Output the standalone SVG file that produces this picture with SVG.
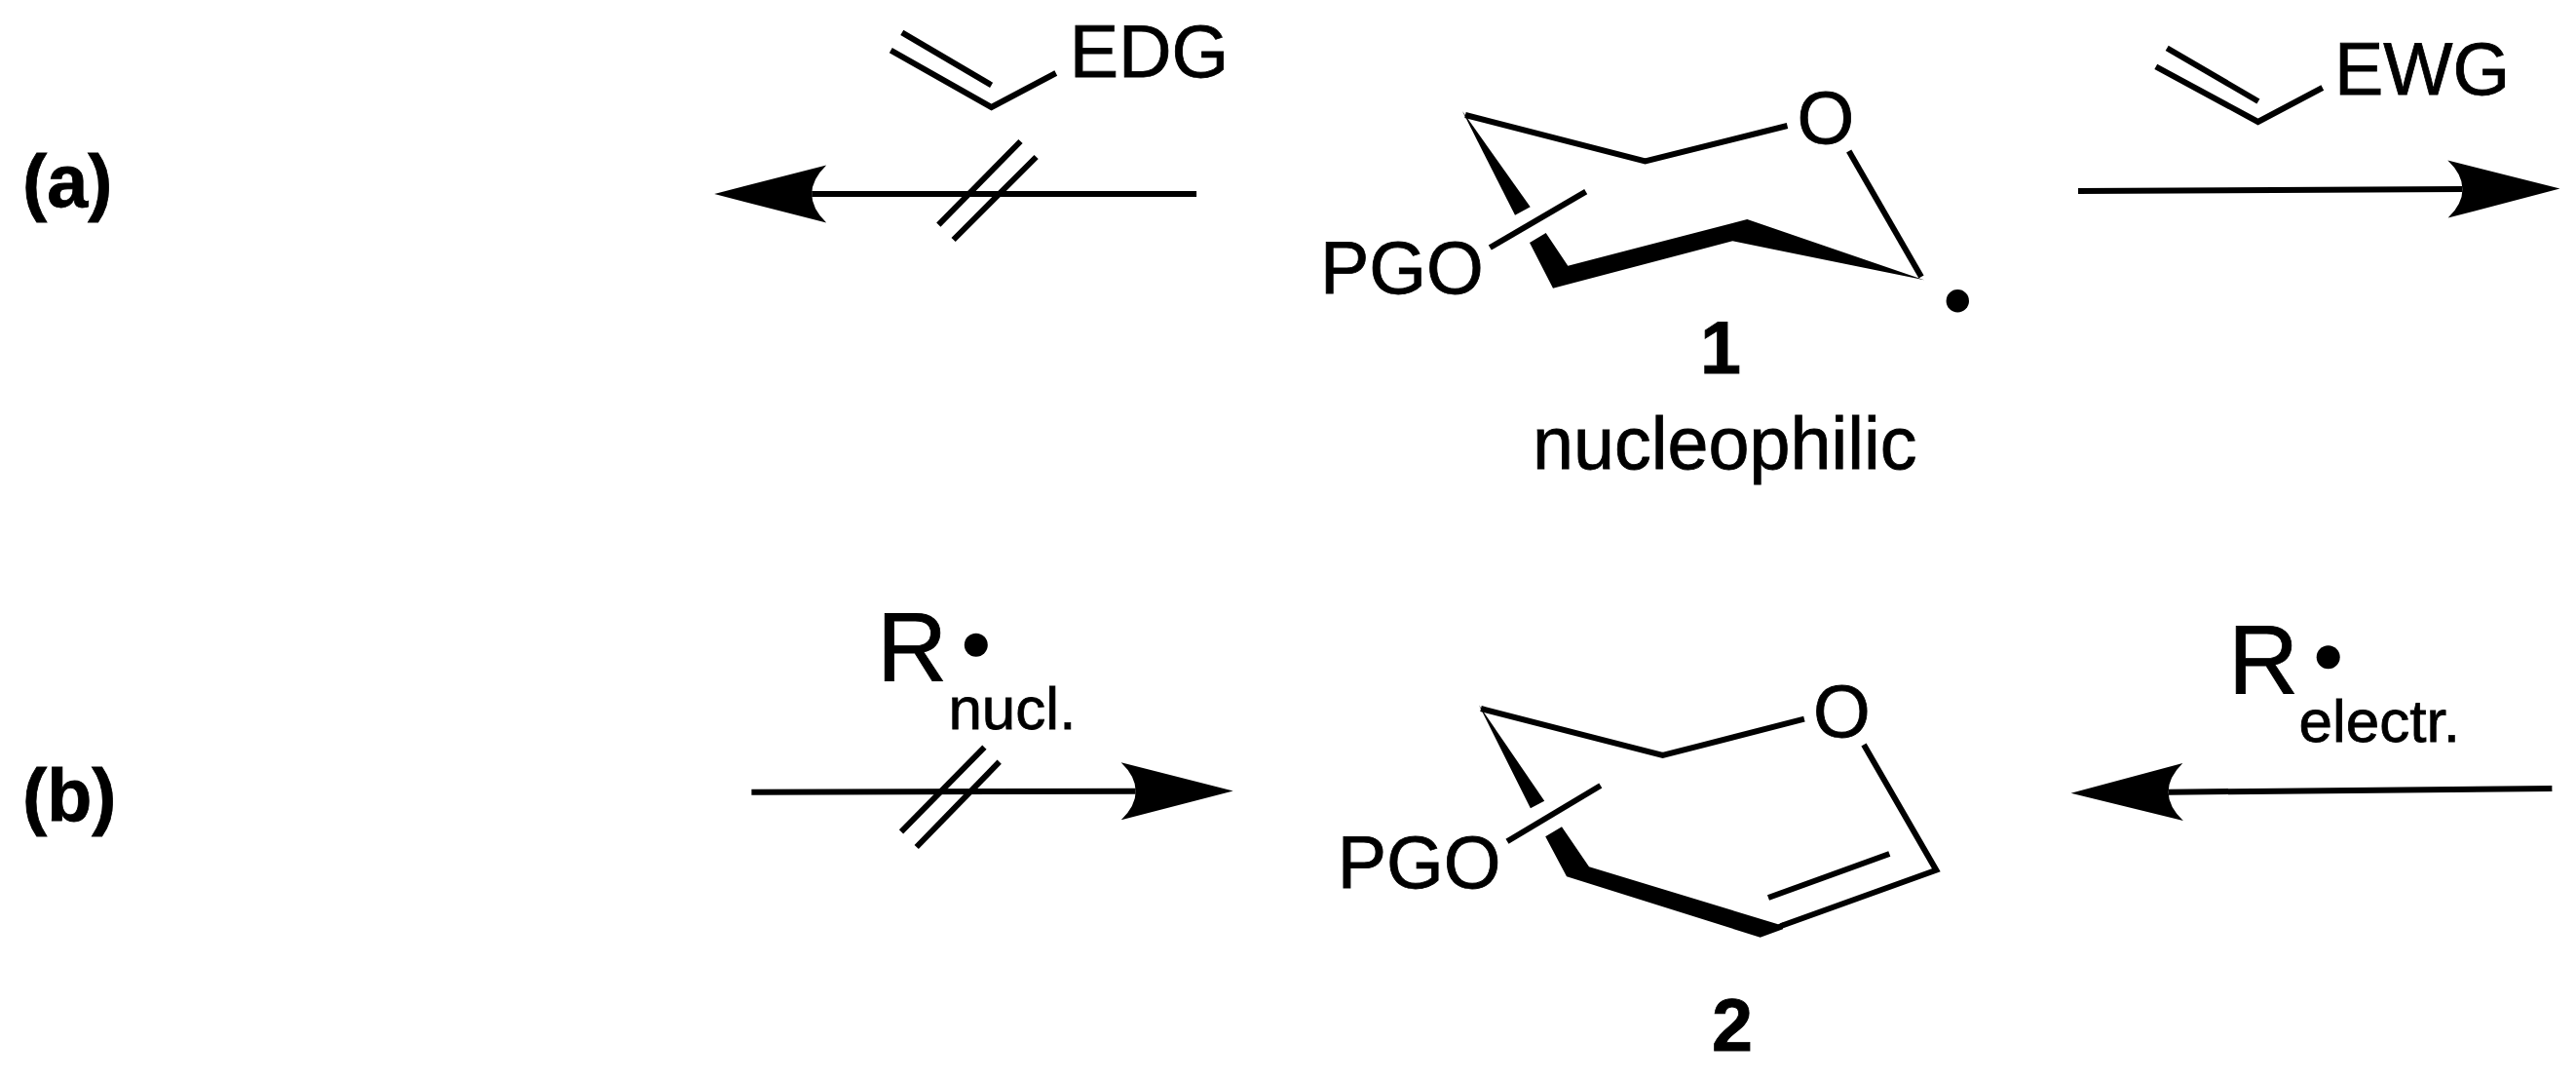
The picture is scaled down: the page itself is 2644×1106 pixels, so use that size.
<svg xmlns="http://www.w3.org/2000/svg" width="2644" height="1106" viewBox="0 0 2644 1106">
<style>
text{font-family:"Liberation Sans",Arial,sans-serif;fill:#000;stroke:#000;stroke-width:.8}
.t{font-size:75.5px}
.b{font-size:75.5px;font-weight:bold}
.R{font-size:100px}
.s{font-size:62px}
.bond{fill:none;stroke:#000;stroke-width:6;stroke-linejoin:miter;stroke-miterlimit:10}
.arrow{fill:none;stroke:#000;stroke-width:6;marker-end:url(#head)}
.no{fill:none;stroke:#000;stroke-width:6}
.solid{fill:#000}
</style>
<defs>
<marker id="head" markerUnits="userSpaceOnUse" viewBox="-20 -35 125 70" refX="0" refY="0" markerWidth="125" markerHeight="70" orient="auto">
<path d="M100,0 L-15,-29.5 Q0,-15 0,0 Q0,15 -15,29.5 Z" fill="#000"/>
</marker>
</defs>
<rect width="2644" height="1106" fill="#fff"/>
<g id="connectors">
<line class="arrow" x1="1228.1" y1="199" x2="833.2" y2="199"/>
<line class="no" x1="963.3" y1="230.7" x2="1047.5" y2="145"/>
<line class="no" x1="978.6" y1="246" x2="1063.6" y2="161"/>
<line class="arrow" x1="2133" y1="196" x2="2527.5" y2="194"/>
<line class="arrow" x1="771.4" y1="812.7" x2="1165.7" y2="811.7"/>
<line class="no" x1="925" y1="853.3" x2="1010.4" y2="766.7"/>
<line class="no" x1="940.7" y1="869" x2="1025.7" y2="781.7"/>
<line class="arrow" x1="2619.4" y1="809" x2="2225.6" y2="812.7"/>
</g>
<g id="label-a"><text class="b" x="23" y="211.7">(a)</text></g>
<g id="label-b"><text class="b" x="23" y="841.7">(b)</text></g>
<g id="reagent-edg">
<polyline class="bond" points="914.3,51.7 1017.6,110 1083.8,75"/>
<line class="bond" x1="925.8" y1="33.3" x2="1017.6" y2="87.3"/>
<text class="t" x="1097.7" y="79.3">EDG</text>
</g>
<g id="reagent-ewg">
<polyline class="bond" points="2212.8,68.3 2317.6,125 2383.8,90"/>
<line class="bond" x1="2224.2" y1="49.3" x2="2317.9" y2="104"/>
<text class="t" x="2396" y="96.7">EWG</text>
</g>
<g id="compound-1">
<polyline class="bond" points="1504,118 1688.6,165.5 1834.5,129"/>
<line class="bond" x1="1897.7" y1="155" x2="1972" y2="284"/>
<line class="bond" x1="1529.3" y1="254" x2="1627.7" y2="196.7"/>
<polygon class="solid" points="1501,114 1570.7,212.3 1555,220.7"/>
<polygon class="solid" points="1586.7,239 1609.3,272.7 1793.3,225 1975,287.3 1778.3,247.3 1594,295.7 1570,249"/>
<text class="t" x="1844.4" y="147">O</text>
<text class="t" x="1355" y="300.7">PGO</text>
<circle class="solid" cx="2009.3" cy="308.7" r="11.7"/>
<text class="b" x="1745" y="383.3">1</text>
<text class="t" x="1573" y="480.7">nucleophilic</text>
</g>
<g id="compound-2">
<polyline class="bond" points="1520,727 1706.6,775 1851.9,737.7"/>
<polyline class="bond" points="1913,764 1987.3,892.7 1828,950"/>
<line class="bond" x1="1939.3" y1="876" x2="1815" y2="921"/>
<line class="bond" x1="1547" y1="863.3" x2="1642.8" y2="806"/>
<polygon class="solid" points="1517.9,723.3 1585.2,821.7 1570.9,829.3"/>
<polygon class="solid" points="1603,848.3 1631,889.3 1825,948.3 1830,946.5 1830,953.2 1806.7,961.7 1608,899.3 1586.2,858.3"/>
<text class="t" x="1861" y="755.5">O</text>
<text class="t" x="1372.7" y="910.7">PGO</text>
<text class="b" x="1757" y="1077.7">2</text>
</g>
<g id="radical-nucl">
<text class="R" x="900" y="699.3">R</text>
<circle class="solid" cx="1001.8" cy="661.7" r="12"/>
<text class="s" x="973.4" y="748.3">nucl.</text>
</g>
<g id="radical-electr">
<text class="R" x="2287" y="711.7">R</text>
<circle class="solid" cx="2389.7" cy="674.3" r="12"/>
<text class="s" x="2359.5" y="760.7">electr.</text>
</g>
</svg>
